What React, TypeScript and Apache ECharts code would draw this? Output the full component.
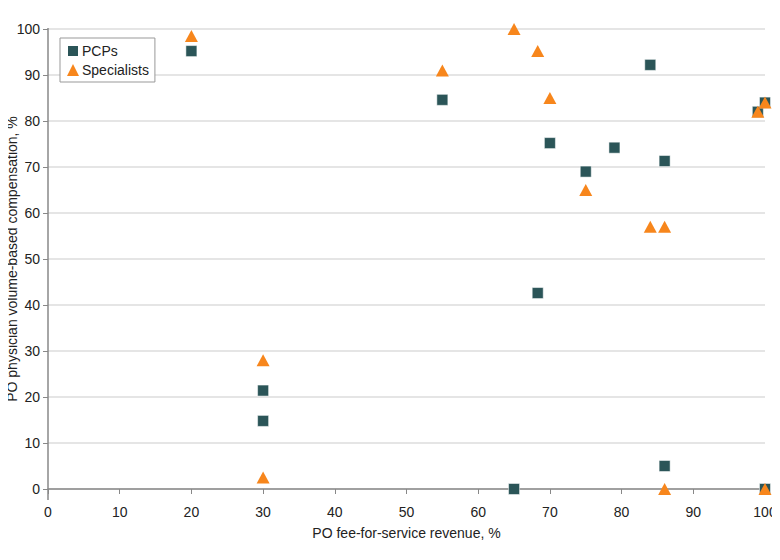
import React, { useEffect, useRef } from "react";
import * as echarts from "echarts";

const pcpX = [20, 55, 70, 75, 79, 84, 86, 99, 100, 68.3, 30, 30, 86, 65, 100];
const pcpY = [95.2, 84.6, 75.2, 69, 74.2, 92.2, 71.3, 82, 84, 42.6, 21.4, 14.8, 5, 0, 0];
const specX = [20, 65, 68.3, 55, 70, 75, 84, 86, 99, 100, 30, 30, 86, 100];
const specY = [98.5, 100, 95.2, 91, 85, 65, 57, 57, 82, 84, 28, 2.5, 0, 0];
const xTicks = [0, 10, 20, 30, 40, 50, 60, 70, 80, 90, 100];

const FONT = "'Liberation Sans', Arial, sans-serif";

export default function App() {
  const ref = useRef<HTMLDivElement>(null);
  useEffect(() => {
    if (!ref.current) return;
    const chart = echarts.init(ref.current, undefined, { renderer: "svg" });
    const zip = (xs: number[], ys: number[]) => xs.map((x, i) => [x, ys[i]]);
    chart.setOption({
      animation: false,
      textStyle: { fontFamily: FONT },
      grid: { left: 48, right: 15, top: 29, bottom: 71, containLabel: false, outerBoundsMode: "none" },
      legend: {
        orient: "vertical",
        left: 60,
        top: 38,
        padding: [6, 6, 5, 6],
        itemGap: 5,
        itemWidth: 12,
        itemHeight: 12,
        borderColor: "#999",
        borderWidth: 1,
        backgroundColor: "#fff",
        textStyle: { fontFamily: FONT, fontSize: 14, color: "#222", padding: [0, 0, 0, -2] },
        data: [
          { name: "PCPs", icon: "rect" },
          { name: "Specialists", icon: "triangle" },
        ],
      },
      xAxis: {
        type: "value",
        min: xTicks[0],
        max: xTicks[xTicks.length - 1],
        interval: 10,
        offset: 10,
        name: "PO fee-for-service revenue, %",
        nameLocation: "middle",
        nameGap: 27,
        nameMoveOverlap: false,
        nameTextStyle: { fontFamily: FONT, fontSize: 14, color: "#222" },
        axisLine: { show: true, lineStyle: { color: "#888", width: 1.5 } },
        axisTick: { show: true, length: 5, lineStyle: { color: "#888" } },
        axisLabel: { fontFamily: FONT, fontSize: 14, color: "#222", margin: 6 },
        splitLine: { show: false },
      },
      yAxis: {
        type: "value",
        min: 0,
        max: 100,
        interval: 10,
        name: "PO physician volume-based compensation, %",
        nameLocation: "middle",
        nameGap: 29,
        nameMoveOverlap: false,
        nameTextStyle: { fontFamily: FONT, fontSize: 14, color: "#222" },
        axisLine: { show: false },
        axisTick: { show: true, length: 5, lineStyle: { color: "#888" } },
        axisLabel: { fontFamily: FONT, fontSize: 14, color: "#222", margin: 8 },
        splitLine: { show: true, lineStyle: { color: "#dcdcdc", width: 1.5 } },
      },
      graphic: [
        {
          type: "line",
          shape: { x1: 48, y1: 28, x2: 48, y2: 500 },
          style: { stroke: "#888", lineWidth: 1.5 },
          z: 10,
        },
      ],
      series: [
        {
          name: "PCPs",
          type: "scatter",
          symbol: "rect",
          symbolSize: 11,
          itemStyle: { color: "#2b5558", opacity: 1, borderColor: "#fff", borderWidth: 0.5 },
          data: zip(pcpX, pcpY),
          z: 2,
        },
        {
          name: "Specialists",
          type: "scatter",
          symbol: "triangle",
          symbolSize: [13, 12],
          itemStyle: { color: "#f7861c", opacity: 1 },
          data: zip(specX, specY),
          z: 3,
        },
      ],
    });
    return () => chart.dispose();
  }, []);
  return <div ref={ref} style={{ width: 780, height: 560, margin: -8 }} />;
}
